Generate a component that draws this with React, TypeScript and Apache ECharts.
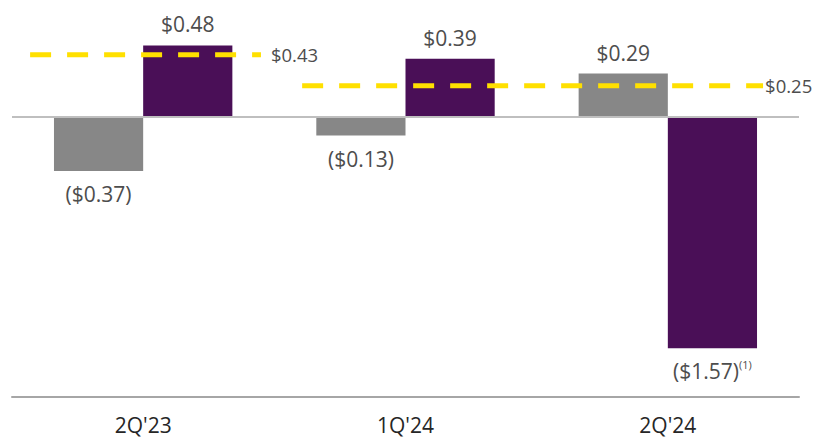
import React, { useEffect, useRef } from "react";
import * as echarts from "echarts";

const categories = ["2Q'23", "1Q'24", "2Q'24"];
const grayValues = [-0.37, -0.13, 0.29];
const purpleValues = [0.48, 0.39, -1.57];
const purpleFootnotes = ["", "", "(1)"];
const guideValues = [0.43, 0.25];

// layout: horizontal extent of each dashed guide on a hidden 0..3 axis
const guideSpans = [
  [0.069, 0.949],
  [1.106, 2.863],
];
const guideLabelDistances = [10, 2];

const GRAY = "#878787";
const PURPLE = "#4A0F57";
const YELLOW = "#FFE000";
const FONT = "Open Sans";

const fmt = (v: number) =>
  v < 0 ? `($${Math.abs(v).toFixed(2)})` : `$${v.toFixed(2)}`;

function barData(values: number[], notes?: string[]) {
  return values.map((v, i) => ({
    value: v,
    label: {
      position: v < 0 ? "bottom" : "top",
      distance: v < 0 ? 11 : 9,
      formatter: () =>
        notes && notes[i] ? `{m|${fmt(v)}}{s|${notes[i]}}` : `{m|${fmt(v)}}`,
    },
  }));
}

const labelRich = {
  m: { fontSize: 21, color: "#4D4D4D", fontFamily: FONT, lineHeight: 24 },
  s: {
    fontSize: 11,
    color: "#4D4D4D",
    fontFamily: FONT,
    verticalAlign: "top",
    lineHeight: 11,
    padding: [0, 0, 13, 0],
  },
};

export default function App() {
  const ref = useRef<HTMLDivElement>(null);
  useEffect(() => {
    if (!ref.current) return;
    const chart = echarts.init(ref.current, undefined, { renderer: "svg" });
    chart.setOption({
      animation: false,
      backgroundColor: "#ffffff",
      textStyle: { fontFamily: FONT },
      grid: { left: 12, right: 18, top: 10, bottom: 42, containLabel: false },
      xAxis: [
        {
          type: "category",
          data: categories,
          axisLine: { show: true, onZero: false, lineStyle: { color: "#A6A6A6", width: 2 } },
          axisTick: { show: false },
          axisLabel: { fontSize: 21, color: "#262626", margin: 17, fontFamily: FONT },
          splitLine: { show: false },
        },
        { type: "value", min: 0, max: 3, show: false },
      ],
      yAxis: [
        { type: "value", min: -1.9, max: 0.72, show: false, splitLine: { show: false } },
        { type: "value", min: -1.56, max: 0.69, show: false, splitLine: { show: false } },
      ],
      series: [
        {
          type: "bar",
          name: "gray",
          data: barData(grayValues),
          itemStyle: { color: GRAY },
          barGap: "0%",
          barCategoryGap: "32%",
          label: { show: true, rich: labelRich },
          markLine: {
            silent: true,
            symbol: "none",
            label: { show: false },
            lineStyle: { color: "#BFBFBF", width: 2, type: "solid" },
            data: [{ yAxis: 0 }],
          },
          z: 2,
        },
        {
          type: "bar",
          name: "purple",
          data: barData(purpleValues, purpleFootnotes),
          itemStyle: { color: PURPLE },
          barGap: "0%",
          barCategoryGap: "32%",
          label: { show: true, rich: labelRich },
          z: 2,
        },
        ...guideValues.map((g, i) => ({
          type: "line",
          xAxisIndex: 1,
          yAxisIndex: 1,
          data: [
            [guideSpans[i][0], g],
            [guideSpans[i][1], g],
          ],
          showSymbol: false,
          symbol: "none",
          lineStyle: { color: YELLOW, width: 5, type: [21, 16] },
          endLabel: {
            show: true,
            position: "right",
            distance: guideLabelDistances[i],
            formatter: () => fmt(g),
            fontSize: 18.5,
            color: "#4D4D4D",
            fontFamily: FONT,
          },
          z: 5,
        })),
      ],
    });
    return () => chart.dispose();
  }, []);
  return (
    <div
      ref={ref}
      style={{ position: "absolute", left: 0, top: 0, width: 817, height: 439 }}
    />
  );
}
